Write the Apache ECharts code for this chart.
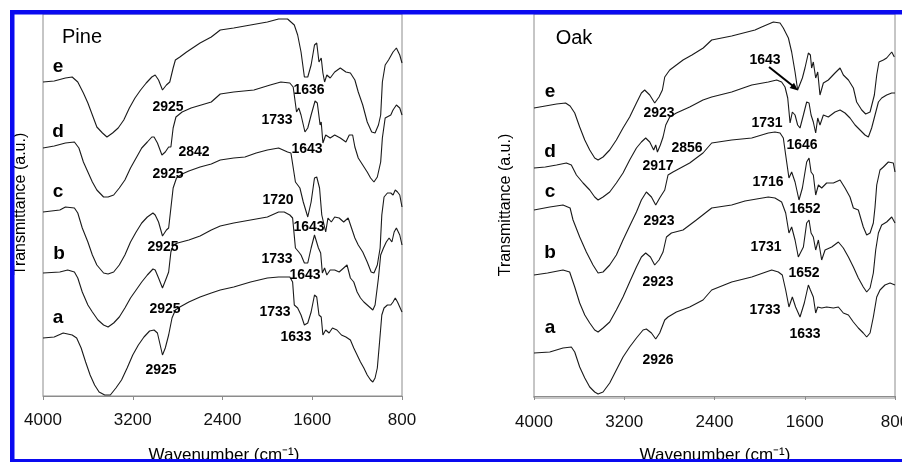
<!DOCTYPE html>
<html>
<head>
<meta charset="utf-8">
<script src="https://cdn.jsdelivr.net/npm/echarts@6/dist/echarts.min.js"></script>
<style>
  html, body { margin: 0; padding: 0; background: #fff; }
  #chart { width: 902px; height: 462px; }
</style>
</head>
<body>
<div id="chart"></div>
<script>
// FTIR spectra, [wavenumber (cm-1), transmittance (a.u., offset per trace)]
var pineA = [[4000,58],[3900,59],[3820,63],[3740,61],[3700,58],[3660,48],[3620,34],[3580,21],[3540,11],[3500,4],[3450,1],[3400,1],[3350,8],[3300,16],[3250,28],[3200,41],[3150,51],[3100,59],[3050,65],[3010,66],[2980,63],[2935,41],[2910,48],[2880,61],[2850,78],[2820,86],[2780,89],[2700,94],[2600,99],[2500,103],[2420,106],[2300,109],[2150,114],[2000,118],[1900,119],[1800,119],[1775,114],[1760,91],[1730,88],[1700,81],[1670,71],[1640,73],[1610,84],[1580,101],[1560,99],[1540,81],[1520,79],[1505,61],[1480,66],[1450,63],[1420,68],[1380,66],[1340,61],[1300,59],[1260,56],[1230,48],[1200,41],[1170,34],[1140,28],[1110,21],[1080,16],[1060,14],[1040,18],[1020,28],[1000,54],[980,81],[960,88],[930,91],[900,91],[880,94],[860,98],[840,94],[820,89],[800,84]];
var pineB = [[4000,123],[3850,124],[3780,126],[3720,124],[3690,118],[3650,104],[3600,91],[3560,84],[3510,76],[3460,71],[3420,69],[3370,73],[3320,79],[3270,88],[3220,98],[3170,106],[3120,114],[3070,121],[3020,127],[3000,126],[2970,118],[2935,108],[2900,118],[2880,124],[2860,144],[2840,151],[2800,153],[2700,156],[2600,160],[2500,166],[2420,170],[2300,173],[2150,176],[2000,179],[1900,184],[1850,184],[1800,181],[1775,178],[1750,148],[1720,144],[1700,141],[1670,133],[1640,133],[1610,148],[1580,161],[1565,163],[1545,148],[1525,143],[1510,123],[1490,128],[1470,121],[1440,126],[1400,126],[1360,124],[1320,128],[1290,131],[1260,118],[1230,114],[1200,104],[1170,98],[1140,94],[1110,91],[1080,88],[1060,86],[1040,91],[1010,118],[990,141],[965,148],[940,154],[915,158],[890,154],[870,164],[850,168],[820,161],[800,151]];
var pineC = [[4000,184],[3850,186],[3800,189],[3720,188],[3690,183],[3650,168],[3600,154],[3560,141],[3520,131],[3460,123],[3420,122],[3370,124],[3320,131],[3270,141],[3220,154],[3170,164],[3120,173],[3070,179],[3020,183],[3000,181],[2970,174],[2935,160],[2900,166],[2880,168],[2860,188],[2840,208],[2810,218],[2760,222],[2700,225],[2600,229],[2500,232],[2420,236],[2300,238],[2200,239],[2100,243],[2000,246],[1900,248],[1820,244],[1790,243],[1750,214],[1710,208],[1680,194],[1640,179],[1610,194],[1580,218],[1560,219],[1535,208],[1515,181],[1500,183],[1480,164],[1460,178],[1430,174],[1400,179],[1360,178],[1320,174],[1280,178],[1250,168],[1220,158],[1190,151],[1150,144],[1110,134],[1075,124],[1050,123],[1020,131],[995,148],[980,181],[960,199],[930,203],[900,203],[880,201],[860,206],[840,204],[820,201],[800,189]];
var pineD = [[4000,248],[3900,250],[3800,253],[3720,254],[3680,248],[3640,234],[3600,224],[3560,214],[3520,206],[3460,199],[3420,199],[3370,201],[3320,208],[3270,216],[3220,228],[3170,238],[3120,248],[3070,254],[3030,259],[3010,259],[2980,253],[2940,241],[2910,244],[2880,249],[2860,249],[2840,268],[2815,279],[2760,284],[2680,288],[2500,294],[2420,302],[2300,304],[2120,306],[1975,311],[1880,314],[1800,313],[1770,309],[1740,284],[1720,288],[1700,281],[1665,264],[1640,268],[1610,281],[1575,295],[1555,293],[1530,271],[1520,274],[1505,253],[1480,261],[1440,258],[1400,261],[1350,258],[1300,254],[1270,261],[1240,261],[1220,249],[1190,238],[1150,231],[1110,224],[1080,218],[1050,214],[1020,219],[990,234],[975,258],[950,278],[900,281],[880,286],[850,291],[820,288],[800,281]];
var pineE = [[4000,314],[3900,315],[3800,318],[3740,319],[3690,314],[3640,303],[3600,293],[3560,281],[3520,269],[3470,263],[3430,259],[3380,263],[3330,268],[3280,276],[3230,288],[3180,298],[3130,306],[3080,313],[3030,319],[3000,321],[2970,316],[2935,306],[2900,311],[2870,314],[2840,328],[2820,336],[2780,339],[2720,344],[2600,353],[2500,359],[2420,366],[2300,368],[2150,371],[2000,374],[1900,377],[1820,377],[1760,371],[1730,361],[1700,344],[1670,319],[1640,319],[1610,331],[1580,351],[1560,353],[1540,334],[1520,338],[1505,323],[1490,314],[1470,321],[1440,318],[1400,324],[1350,328],[1300,324],[1260,323],[1220,316],[1190,304],[1150,291],[1110,274],[1070,264],[1040,263],[1010,271],[990,281],[975,314],[950,331],[920,336],[880,344],[850,348],[820,341],[800,333]];

var oakA = [[4000,43],[3860,44],[3743,48],[3669,49],[3639,44],[3595,29],[3550,18],[3506,9],[3462,4],[3432,2],[3388,4],[3329,13],[3270,26],[3211,39],[3152,49],[3092,58],[3033,66],[3004,67],[2959,63],[2921,57],[2886,63],[2841,76],[2812,79],[2738,84],[2620,89],[2502,96],[2425,106],[2248,114],[2070,119],[1893,126],[1834,124],[1799,121],[1769,106],[1740,89],[1710,99],[1681,89],[1642,79],[1604,93],[1568,111],[1550,106],[1524,99],[1503,83],[1485,89],[1450,88],[1406,89],[1346,88],[1302,89],[1258,83],[1213,81],[1169,74],[1125,68],[1081,63],[1051,59],[1021,63],[992,79],[962,99],[933,106],[889,111],[844,113],[800,111]];
var oakB = [[4000,121],[3880,123],[3743,126],[3684,124],[3639,109],[3595,93],[3550,81],[3506,73],[3462,66],[3432,64],[3388,68],[3329,74],[3270,86],[3211,99],[3152,114],[3092,129],[3048,139],[3010,143],[2968,139],[2930,131],[2892,136],[2856,144],[2826,159],[2782,163],[2679,166],[2561,176],[2425,188],[2248,191],[2130,195],[1923,199],[1864,198],[1805,194],[1769,183],[1740,163],[1716,169],[1686,156],[1657,139],[1642,138],[1612,149],[1583,173],[1562,176],[1544,163],[1524,159],[1503,146],[1479,156],[1450,136],[1420,146],[1361,149],[1302,154],[1258,148],[1213,139],[1169,129],[1125,118],[1081,109],[1051,104],[1021,108],[992,123],[971,146],[947,163],[918,171],[874,174],[829,179],[800,173]];
var oakC = [[4000,186],[3860,189],[3743,191],[3680,188],[3654,176],[3595,159],[3536,144],[3477,131],[3432,123],[3388,124],[3329,131],[3270,141],[3211,156],[3152,170],[3092,184],[3048,196],[3004,204],[2959,199],[2921,191],[2886,198],[2841,206],[2812,221],[2768,224],[2620,233],[2502,243],[2425,253],[2248,256],[2070,258],[1923,263],[1864,264],[1819,263],[1790,258],[1769,241],[1740,218],[1716,224],[1686,214],[1651,196],[1621,208],[1583,234],[1562,238],[1544,224],[1524,221],[1503,201],[1479,211],[1450,208],[1406,213],[1346,213],[1287,216],[1243,208],[1199,199],[1169,188],[1125,186],[1081,169],[1051,161],[1021,163],[992,173],[977,189],[962,211],[933,226],[903,229],[859,234],[815,233],[800,224]];
var oakD = [[4000,228],[3900,229],[3800,231],[3713,233],[3669,231],[3624,221],[3565,213],[3506,206],[3462,199],[3432,196],[3388,199],[3329,204],[3270,213],[3211,223],[3152,236],[3092,248],[3048,254],[3010,258],[2974,254],[2939,246],[2921,251],[2906,244],[2880,251],[2856,259],[2832,271],[2797,279],[2738,283],[2620,289],[2502,296],[2425,299],[2248,304],[2070,311],[1923,314],[1849,316],[1805,314],[1775,309],[1751,298],[1730,273],[1710,284],[1686,281],[1663,271],[1642,268],[1612,281],[1583,294],[1562,293],[1544,281],[1524,274],[1503,263],[1485,278],[1465,271],[1435,281],[1391,279],[1332,284],[1287,286],[1243,283],[1199,278],[1154,271],[1110,266],[1066,261],[1036,259],[1007,268],[977,281],[947,294],[918,298],[874,301],[829,303],[800,303]];
var oakE = [[4000,288],[3900,290],[3800,292],[3720,293],[3680,290],[3639,283],[3595,269],[3550,256],[3506,246],[3462,238],[3432,236],[3388,239],[3329,246],[3270,256],[3211,268],[3152,279],[3092,293],[3048,303],[3019,306],[2974,301],[2930,293],[2892,299],[2862,306],[2841,319],[2797,326],[2738,331],[2679,336],[2600,341],[2500,348],[2425,356],[2248,360],[2041,366],[1982,369],[1878,374],[1819,373],[1790,368],[1745,358],[1716,344],[1686,324],[1663,306],[1648,304],[1621,318],[1598,328],[1568,343],[1550,341],[1539,328],[1524,334],[1503,318],[1485,324],[1465,301],[1435,313],[1391,316],[1332,323],[1287,328],[1258,321],[1213,316],[1169,308],[1140,294],[1095,286],[1060,282],[1021,284],[983,301],[962,321],[942,334],[903,336],[874,338],[829,344],[806,339]];

var traceNames = ['a', 'b', 'c', 'd', 'e'];
var panelNames = ['Pine', 'Oak'];
var waveMin = 800, waveMax = 4000, waveStep = 800;

var pinePeaks = ['2925', '1636', '1733', '2842', '2925', '1643', '1720', '1643', '2925', '1733', '1643', '2925', '1733', '1633', '2925'];
var oakPeaks = ['2923', '2856', '2917', '2923', '2923', '2926', '1643', '1731', '1646', '1716', '1652', '1731', '1652', '1733', '1633'];

// layout (pixels) for the annotations
var pinePeakPos = [[168,107],[309,90],[277,120],[194,152],[168,174],[307,149],[278,200],[309,227],[163,247],[277,259],[305,275],[165,309],[275,312],[296,337],[161,370]];
var oakPeakPos = [[659,113],[687,148],[658,166],[659,221],[658,282],[658,360],[765,60],[767,123],[802,145],[768,182],[805,209],[766,247],[804,273],[765,310],[805,334]];
var pineLetterPos = [[58,318],[59,254],[58,192],[58,132],[58,67]];
var oakLetterPos = [[550,328],[550,253],[550,192],[550,152],[550,92]];

var FONT = '"Liberation Sans", Arial, sans-serif';
var chart = echarts.init(document.getElementById('chart'), null, { renderer: 'canvas' });

function makeXAxis (gridIndex) {
  return {
    gridIndex: gridIndex,
    type: 'value',
    inverse: true,
    min: waveMin,
    max: waveMax,
    interval: waveStep,
    axisLine: { show: true, lineStyle: { color: '#8c8c8c', width: 1 } },
    axisTick: { show: true, inside: false, length: 4, lineStyle: { color: '#8c8c8c' } },
    axisLabel: {
      show: true, fontSize: 17, fontFamily: FONT, color: '#111', margin: 16,
      showMinLabel: true, showMaxLabel: true, hideOverlap: false,
      formatter: function (v) { return String(v) }
    },
    splitLine: { show: false }
  }
}

function makeYAxis (gridIndex, min, max) {
  return {
    gridIndex: gridIndex,
    type: 'value',
    min: min,
    max: max,
    axisLine: { show: false },
    axisTick: { show: false },
    axisLabel: { show: false },
    splitLine: { show: false }
  }
}

var series = [];
var pineTraces = [pineA, pineB, pineC, pineD, pineE];
var oakTraces = [oakA, oakB, oakC, oakD, oakE];
pineTraces.forEach(function (d, i) {
  series.push({ name: 'Pine ' + traceNames[i], type: 'line', xAxisIndex: 0, yAxisIndex: 0, data: d, showSymbol: false, silent: true, lineStyle: { color: '#1a1a1a', width: 1.1 } });
});
oakTraces.forEach(function (d, i) {
  series.push({ name: 'Oak ' + traceNames[i], type: 'line', xAxisIndex: 1, yAxisIndex: 1, data: d, showSymbol: false, silent: true, lineStyle: { color: '#1a1a1a', width: 1.1 } });
});

function txt (s, x, y, font, extra) {
  var o = { type: 'text', x: x, y: y, z: 50, style: { text: s, font: font, fill: '#000', align: 'center', verticalAlign: 'middle' } };
  if (extra) { for (var k in extra) o[k] = extra[k]; }
  return o;
}

var graphics = [];
graphics.push(txt(panelNames[0], 82, 37, '20px ' + FONT));
graphics.push(txt(panelNames[1], 574, 38, '20px ' + FONT));
traceNames.forEach(function (n, i) {
  graphics.push(txt(n, pineLetterPos[i][0], pineLetterPos[i][1], 'bold 19px ' + FONT));
  graphics.push(txt(n, oakLetterPos[i][0], oakLetterPos[i][1], 'bold 19px ' + FONT));
});
pinePeaks.forEach(function (s, i) {
  graphics.push(txt(s, pinePeakPos[i][0], pinePeakPos[i][1], 'bold 14px ' + FONT));
});
oakPeaks.forEach(function (s, i) {
  graphics.push(txt(s, oakPeakPos[i][0], oakPeakPos[i][1], 'bold 14px ' + FONT));
});
// axis titles
graphics.push(txt('Wavenumber (cm\u207B\u00B9)', 224, 455, '17px ' + FONT));
graphics.push(txt('Wavenumber (cm\u207B\u00B9)', 715, 455, '17px ' + FONT));
graphics.push(txt('Transmittance (a.u.)', 21, 204, '16px ' + FONT, { rotation: Math.PI / 2 }));
graphics.push(txt('Transmittance (a.u.)', 506, 205, '16px ' + FONT, { rotation: Math.PI / 2 }));
// arrow to 1643 in oak e
graphics.push({ type: 'line', z: 50, shape: { x1: 769, y1: 67, x2: 793, y2: 86 }, style: { stroke: '#000', lineWidth: 2 } });
graphics.push({ type: 'polygon', z: 50, shape: { points: [[798, 90.5], [789.6, 88.1], [794.0, 82.7]] }, style: { fill: '#000' } });
// blue frame of the scan
var BLUE = '#0a0af0';
graphics.push({ type: 'rect', z: 100, shape: { x: 10, y: 10, width: 892, height: 4.5 }, style: { fill: BLUE } });
graphics.push({ type: 'rect', z: 100, shape: { x: 10, y: 10, width: 4.5, height: 452 }, style: { fill: BLUE } });
graphics.push({ type: 'rect', z: 100, shape: { x: 10, y: 459, width: 892, height: 3 }, style: { fill: BLUE } });

var option = {
  backgroundColor: '#fff',
  animation: false,
  grid: [
    { left: 43, top: 14, width: 359, height: 382, show: true, borderColor: '#8c8c8c', borderWidth: 1, backgroundColor: 'transparent', containLabel: false, outerBoundsMode: 'none' },
    { left: 534, top: 14, width: 361, height: 384, show: true, borderColor: '#8c8c8c', borderWidth: 1, backgroundColor: 'transparent', containLabel: false, outerBoundsMode: 'none' }
  ],
  xAxis: [makeXAxis(0), makeXAxis(1)],
  yAxis: [makeYAxis(0, 0, 382), makeYAxis(1, -2, 382)],
  series: series,
  graphic: graphics
};

chart.setOption(option);
</script>
</body>
</html>
